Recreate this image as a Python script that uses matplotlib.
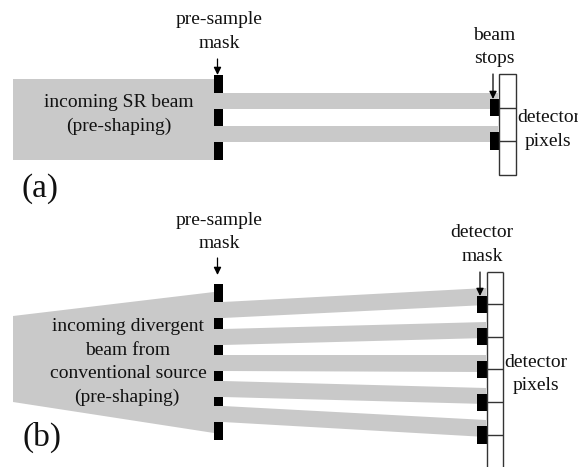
import matplotlib
matplotlib.use("Agg")
import matplotlib.pyplot as plt
from matplotlib.patches import Polygon, Rectangle

GRAY = "#c9c9c9"
LINE = "#333333"

# panel (a), everything in image pixels
a_mask_x = [214, 223]
a_mask_blocks = [(75, 93), (109, 126), (142, 160)]
a_incoming = [(13, 79), (214, 79), (214, 160), (13, 160)]
a_beams = [(93, 109), (126, 142)]
a_beam_end = 498
a_stop_x = [490, 498.5]
a_stops = [(99, 116), (132, 150)]
a_det_x = [498.5, 516]
a_det_y = [74, 107.5, 141, 174.5]

# panel (b)
b_mask_x = [214, 223]
b_mask_blocks = [(284, 302), (318, 329), (345, 355), (371, 381), (397, 406), (422, 440)]
b_incoming = [(13, 316), (214, 292), (214, 433), (13, 402)]
b_beams_start = [(302, 318), (329, 345), (355, 371), (381, 397), (406, 422)]
b_beams_end = [(288, 305), (322, 338), (355, 372), (388, 404), (420, 437)]
b_beam_end = 486
b_stop_x = [477, 486.5]
b_stops = [(296, 313), (328, 345), (361, 378), (394, 411), (426, 444)]
b_det_x = [486.5, 503]
b_det_y = [272, 304, 337, 369, 402, 435]
b_det_bottom = 467

# from (x, y) to (x, y)
arrows = [((217.5, 59), (217.5, 75)), ((493, 74), (493, 99)),
          ((217.5, 258), (217.5, 275)), ((480, 272), (480, 296))]

# label, x, baseline y
labels = [("pre-sample", 219, 24.5), ("mask", 219, 48),
          ("beam", 494, 40), ("stops", 494, 63),
          ("incoming SR beam", 119, 107), ("(pre-shaping)", 119, 131),
          ("detector", 549, 122), ("pixels", 548, 145.5),
          ("pre-sample", 219, 225), ("mask", 219, 248),
          ("detector", 482, 237), ("mask", 482, 261),
          ("incoming divergent", 128, 331), ("beam from", 128, 355),
          ("conventional source", 128, 378), ("(pre-shaping)", 127, 402),
          ("detector", 536, 367), ("pixels", 536, 390)]
panels = [("(a)", 40, 197), ("(b)", 42, 446)]

fig = plt.figure(figsize=(5.78, 4.67), dpi=100)
ax = fig.add_axes([0, 0, 1, 1])
ax.set_xlim(0, 578)
ax.set_ylim(467, 0)
ax.axis("off")
plt.rcParams["font.family"] = "Liberation Serif"


def blocks(xs, spans):
    for top, bottom in spans:
        ax.add_patch(Rectangle((xs[0], top), xs[1] - xs[0], bottom - top, fc="black", ec="none", zorder=3))


# panel a
ax.add_patch(Polygon(a_incoming, fc=GRAY, ec="none"))
for top, bottom in a_beams:
    ax.add_patch(Rectangle((a_mask_x[0], top), a_beam_end - a_mask_x[0], bottom - top, fc=GRAY, ec="none"))
blocks(a_mask_x, a_mask_blocks)
blocks(a_stop_x, a_stops)
ax.add_patch(Rectangle((a_det_x[0], a_det_y[0]), a_det_x[1] - a_det_x[0], a_det_y[-1] - a_det_y[0],
                       fc="none", ec=LINE, lw=1.0, zorder=4))
ax.hlines(a_det_y[1:-1], a_det_x[0], a_det_x[1], color=LINE, lw=1.0, zorder=4)

# panel b
ax.add_patch(Polygon(b_incoming, fc=GRAY, ec="none"))
for s, e in zip(b_beams_start, b_beams_end):
    pts = [(b_mask_x[0], s[0]), (b_mask_x[1], s[0]), (b_beam_end, e[0]), (b_beam_end, e[1]),
           (b_mask_x[1], s[1]), (b_mask_x[0], s[1])]
    ax.add_patch(Polygon(pts, fc=GRAY, ec="none"))
blocks(b_mask_x, b_mask_blocks)
blocks(b_stop_x, b_stops)
ax.vlines(b_det_x, b_det_y[0], b_det_bottom, color=LINE, lw=1.0, zorder=4)
ax.hlines(b_det_y, b_det_x[0], b_det_x[1], color=LINE, lw=1.0, zorder=4)

for start, end in arrows:
    ax.annotate("", xy=end, xytext=start, zorder=5,
                arrowprops=dict(arrowstyle="-|>,head_width=0.22,head_length=0.45", color="black",
                                lw=0.9, shrinkA=0, shrinkB=0, mutation_scale=10))

for text, x, y in labels:
    ax.text(x, y, text, ha="center", va="baseline", fontsize=14, color="#111111",
            family="Liberation Serif", zorder=6)
for text, x, y in panels:
    ax.text(x, y, text, ha="center", va="baseline", fontsize=24, color="#111111",
            family="Liberation Serif", zorder=6)

fig.savefig("out.png", dpi=100)
